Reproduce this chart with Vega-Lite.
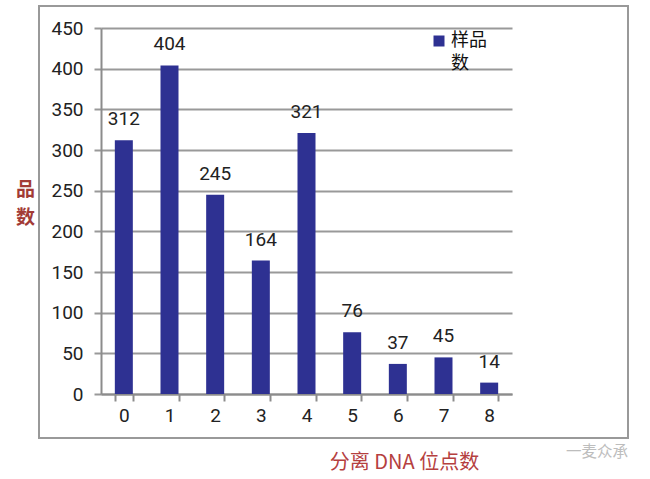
{
"$schema":"https://vega.github.io/schema/vega-lite/v6.json",
"width":589,"height":432,
"autosize":{"type":"none"},
"padding":{"left":39,"top":6,"right":22,"bottom":41},
"background":"white",
"view":{"stroke":"#999999","strokeWidth":2,"fill":"white"},
"config":{"font":"Roboto","style":{"guide-label":{"lineHeight":23}}},
"title":{"text":"一麦众承","orient":"bottom","anchor":"end","frame":"group","offset":-2,"dy":-25,"dx":0,"color":"#bdbdbd","fontSize":15.5,"fontWeight":"normal","font":"Noto Sans CJK SC"},
"data":{"values":[
{"sites":0,"count":312,"series":"样品数"},
{"sites":1,"count":404,"series":"样品数"},
{"sites":2,"count":245,"series":"样品数"},
{"sites":3,"count":164,"series":"样品数"},
{"sites":4,"count":321,"series":"样品数"},
{"sites":5,"count":76,"series":"样品数"},
{"sites":6,"count":37,"series":"样品数"},
{"sites":7,"count":45,"series":"样品数"},
{"sites":8,"count":14,"series":"样品数"}
]},
"encoding":{
"x":{"field":"sites","type":"ordinal","sort":null,
"scale":{"range":[62,473],"paddingInner":0.6,"paddingOuter":0.3},
"axis":{"orient":"bottom","offset":-44,"tickBand":"extent","labelAngle":0,"grid":false,"domainColor":"#8c8c8c","domainWidth":2,"tickColor":"#8c8c8c","tickWidth":2,"tickSize":7,"labelFontSize":19,"labelColor":"#222222","labelPadding":5,"labelFont":"Roboto",
"title":"分离 DNA 位点数","titleFont":"Noto Sans CJK SC","titleFontSize":20,"titleFontWeight":"normal","titleColor":"#b5403f","titleX":365,"titleY":58,"titleAlign":"center"}},
"y":{"field":"count","type":"quantitative",
"scale":{"domain":[0,450],"range":[388,22],"nice":false},
"axis":{"orient":"left","offset":-62,"values":[0,50,100,150,200,250,300,350,400,450],"grid":true,"gridColor":"#999999","gridWidth":2,"domainColor":"#8c8c8c","domainWidth":2,"tickColor":"#999999","tickWidth":2,"tickSize":7,"labelFontSize":19,"labelColor":"#222222","labelPadding":11,"labelFont":"Roboto",
"title":["品","数"],"titleFont":"Noto Sans CJK SC","titleFontSize":19,"titleFontWeight":"bold","titleColor":"#a23b36","titleAngle":0,"titleX":-76,"titleY":183,"titleAlign":"center","titleBaseline":"middle","titleLineHeight":28}}
},
"layer":[
{"mark":{"type":"bar","width":18},
"encoding":{"color":{"field":"series","type":"nominal","scale":{"range":["#2e3192"]},
"legend":{"orient":"none","legendX":391,"legendY":26,"title":null,"symbolType":"square","symbolSize":121,"labelFont":"Noto Sans CJK SC","labelFontSize":18,"labelColor":"#111111","labelExpr":"['样品','数']","labelBaseline":"middle","labelOffset":3,"labelLimit":100}}}},
{"mark":{"type":"text","baseline":"bottom","dy":-11,"fontSize":19,"color":"#222222","font":"Roboto"},
"encoding":{"text":{"field":"count","type":"quantitative"}}}
]
}
